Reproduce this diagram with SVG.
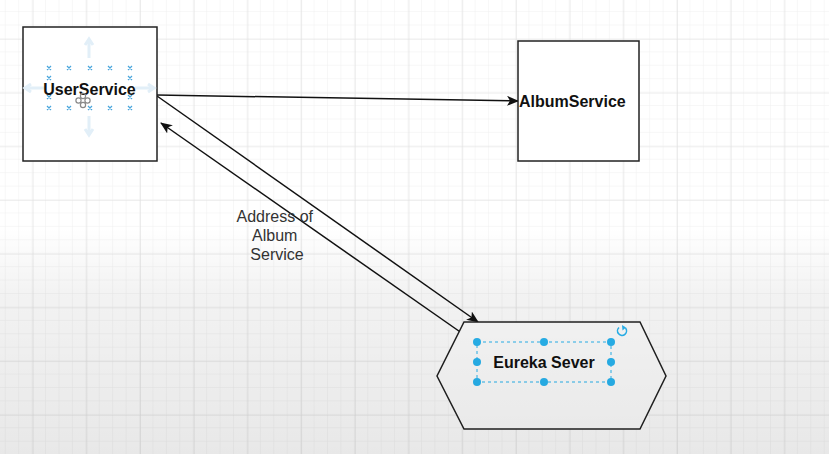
<svg xmlns="http://www.w3.org/2000/svg" width="829" height="454" viewBox="0 0 829 454">
  <defs>
    <style>
      .box { fill: #ffffff; stroke: #222222; stroke-width: 1.5; }
      .lbl { font-family: "Liberation Sans", Arial, sans-serif; font-size: 16px; font-weight: bold; fill: #111111; }
      .edge-lbl { font-family: "Liberation Sans", Arial, sans-serif; font-size: 16px; fill: #333333; }
      .edge { stroke: #111111; stroke-width: 1.5; fill: none; }
      .handle { fill: #29b6f2; }
      .xmark { stroke: #4aa6dc; stroke-width: 1.2; }
      .hover { stroke: #e2eff8; stroke-width: 3; fill: none; }
    </style>
    <pattern id="minor" x="5.75" y="12.05" width="13.425" height="13.425" patternUnits="userSpaceOnUse">
      <path d="M13.425 0 V13.425 M0 13.425 H13.425" stroke="#efefef" stroke-width="1" fill="none"/>
    </pattern>
    <pattern id="major" x="32.6" y="38.9" width="53.7" height="53.7" patternUnits="userSpaceOnUse">
      <path d="M0 0 V53.7 M0 0 H53.7" stroke="#e0e0e0" stroke-width="1.2" fill="none"/>
    </pattern>
    <linearGradient id="shade" x1="0" y1="0" x2="0" y2="1">
      <stop offset="0" stop-color="#000000" stop-opacity="0"/>
      <stop offset="0.5" stop-color="#000000" stop-opacity="0"/>
      <stop offset="0.65" stop-color="#000000" stop-opacity="0.05"/>
      <stop offset="1" stop-color="#000000" stop-opacity="0.09"/>
    </linearGradient>
    <marker id="arrow" viewBox="0 0 12 10" refX="11" refY="5" markerWidth="12" markerHeight="10" markerUnits="userSpaceOnUse" orient="auto">
      <path d="M0 0 L12 5 L0 10 L3 5 Z" fill="#111111"/>
    </marker>
  </defs>

  <rect width="829" height="454" fill="#ffffff"/>
  <rect width="829" height="454" fill="url(#minor)"/>
  <rect width="829" height="454" fill="url(#major)"/>

  <g id="connectors">
    <line class="edge" x1="157" y1="95" x2="518" y2="101" marker-end="url(#arrow)"/>
    <line class="edge" x1="157" y1="96" x2="478" y2="322" marker-end="url(#arrow)"/>
    <line class="edge" x1="466" y1="336" x2="161" y2="123" marker-end="url(#arrow)"/>
  </g>

  <g id="UserService">
    <rect class="box" x="23" y="27" width="134" height="134"/>
    <g class="hover">
      <path d="M89 58 V40 M85 45 L89 39 L93 45"/>
      <path d="M89 116 V134 M85 129 L89 135 L93 129"/>
      <path d="M45 88 H26 M31 84 L25 88 L31 92"/>
      <path d="M135 88 H153 M148 84 L154 88 L148 92"/>
    </g>
    <g class="xmark">
      <path d="M47 66 l4 4 m0 -4 l-4 4 M67 66 l4 4 m0 -4 l-4 4 M88 66 l4 4 m0 -4 l-4 4 M108 66 l4 4 m0 -4 l-4 4 M128 66 l4 4 m0 -4 l-4 4"/>
      <path d="M47 76 l4 4 m0 -4 l-4 4 M128 76 l4 4 m0 -4 l-4 4"/>
      <path d="M47 95 l4 4 m0 -4 l-4 4 M128 95 l4 4 m0 -4 l-4 4"/>
      <path d="M47 106 l4 4 m0 -4 l-4 4 M67 106 l4 4 m0 -4 l-4 4 M88 106 l4 4 m0 -4 l-4 4 M108 106 l4 4 m0 -4 l-4 4 M128 106 l4 4 m0 -4 l-4 4"/>
    </g>
    <text class="lbl" x="89.5" y="94.5" text-anchor="middle">UserService</text>
    <g fill="none" stroke="#888888" stroke-width="1.2">
      <circle cx="83" cy="96" r="2.6"/>
      <circle cx="83" cy="105" r="2.6"/>
      <circle cx="78.5" cy="100.5" r="2.6"/>
      <circle cx="87.5" cy="100.5" r="2.6"/>
    </g>
  </g>

  <g id="AlbumService">
    <rect class="box" x="518" y="41" width="121" height="120"/>
    <text class="lbl" x="519" y="107">AlbumService</text>
  </g>

  <g id="EurekaSever">
    <polygon class="box" points="464,322 640,322 666,376 640,429 464,429 437,376"/>
    <text class="lbl" x="544" y="368" text-anchor="middle">Eureka Sever</text>
    <rect x="477" y="342" width="134" height="40" fill="none" stroke="#29b6f2" stroke-width="1" stroke-dasharray="3 3"/>
    <circle class="handle" cx="477" cy="342" r="4"/>
    <circle class="handle" cx="544" cy="342" r="4"/>
    <circle class="handle" cx="611" cy="342" r="4"/>
    <circle class="handle" cx="477" cy="362" r="4"/>
    <circle class="handle" cx="611" cy="362" r="4"/>
    <circle class="handle" cx="477" cy="382" r="4"/>
    <circle class="handle" cx="544" cy="382" r="4"/>
    <circle class="handle" cx="611" cy="382" r="4"/>
    <path d="M625.5 328 A4.5 4.5 0 1 1 619 327.5" fill="none" stroke="#29b6f2" stroke-width="1.6"/>
    <path d="M622 325 L626 327.5 L622.5 330.5 Z" fill="#29b6f2"/>
  </g>

  <g id="edge-label">
    <text class="edge-lbl" text-anchor="middle">
      <tspan x="277" y="222">Address of</tspan>
      <tspan x="277" y="241">Album</tspan>
      <tspan x="277" y="260">Service</tspan>
    </text>
  </g>

  <rect width="829" height="454" fill="url(#shade)" pointer-events="none"/>
</svg>
